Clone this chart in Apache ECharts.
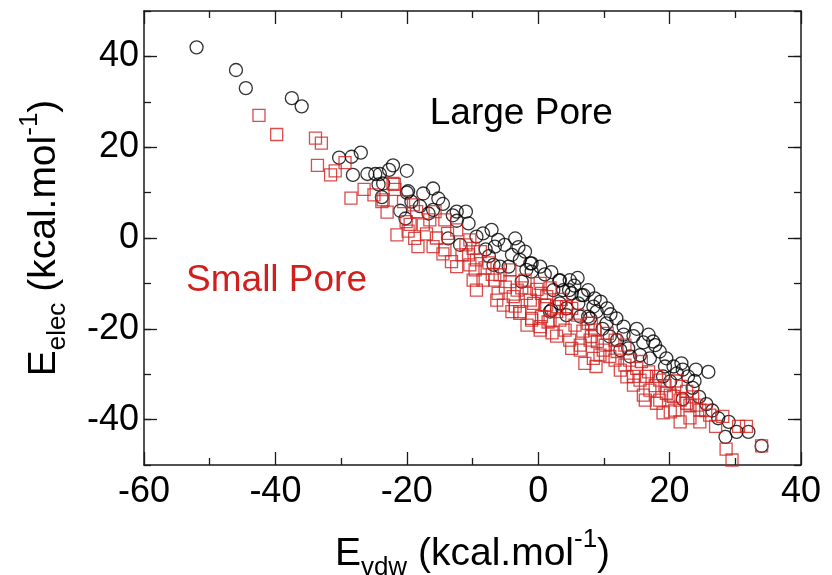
<!DOCTYPE html>
<html>
<head>
<meta charset="utf-8">
<script src="https://cdn.jsdelivr.net/npm/echarts@6/dist/echarts.min.js"></script>
<style>
html,body{margin:0;padding:0;background:#fff;}
#chart{width:832px;height:575px;}
</style>
</head>
<body>
<div id="chart"></div>
<script>
// X range / ticks
const xMin = -60, xMax = 40, xStep = 20;
const yMin = -50, yMax = 50;
const yMajorTicks = [-40, -20, 0, 20, 40];

const seriesNames = ['Large Pore', 'Small Pore'];

// Large Pore (black circles): [E_vdw, E_elec]
const largePore = [
  [-52,42],[-46,37],[-44.5,33],[-37.5,30.8],[-36,29],
  [-30.3,17.7],[-28.4,17.9],[-27,18.8],[-28.2,13.9],[-26,14.1],[-24.8,14.1],[-24.1,14.1],
  [-22.1,16],[-22.7,15],[-24.3,11.8],[-23.8,9],[-20,14.8],[-20,10],[-20.2,4.3],[-23.6,12],
  [-16,10.9],[-17.5,9.8],[-15.2,8.7],[-19.8,10.3],[-19.3,8],[-18,7],[-16.7,5.4],[-16,6.2],
  [-12.4,5.8],[-11,5.8],[-10.6,3.2],[-12.4,3.8],[-13.7,-0.1],[-11.9,-1.5],[-9.4,0.3],[-8.4,1],
  [-7.1,1.8],[-6.1,-0.4],[-3.5,-0.1],[-6.6,-1.9],[-5.1,-1.5],[-4,-3.7],[-2.8,-4.8],[-6.8,-5.9],
  [-5.8,-6.3],[-4.5,-6.3],[-1,-5.6],[0.3,-6.3],[-1.8,-7],[-2.5,-9.6],[3.3,-9.3],[4.8,-9.3],
  [2.3,-11.5],[3.8,-11.5],[5.1,-12.2],[6.9,-12.6],[7.6,-11.5],[8.4,-15.1],[3.3,-14.4],[1.8,-16.2],
  [4.3,-17],[6.4,-17.3],[7.9,-17.7],[-1.2,-5.6],[-1,-7.4],[3.2,-9.4],[4.7,-11.5],[8.6,-13.3],
  [6.6,-12.6],[2,-15.9],[4.3,-15.5],[6.1,-14.4],[7.6,-17.3],[8.9,-16.2],[10.4,-18.8],[11.9,-17.7],
  [13,-19.5],[10.9,-21.7],[13,-21.3],[14.5,-21.6],[16.8,-21.3],[17.5,-22.8],[17.8,-23.6],[13.7,-24.3],
  [12.5,-24.7],[15.5,-25.8],[14,-26.1],[19.5,-26.5],[21.8,-27.6],[20.6,-28.3],[19.3,-28.3],[21.1,-29.8],
  [22.8,-30.5],[20.1,-31.6],[25.9,-29.5],[23.5,-33],[24.5,-35],[22,-35.5],[25.6,-36.6],[27.4,-39.7],
  [28.5,-43.8],[30.2,-42.7],[32,-42.7],[34,-45.8],
  [-21,6],[-14.5,7.5],[-13,5],[-8,-2.5],[-7.5,-4],[-3,-2],[-2,-3],[1,-8],[2,-7.5],[5.5,-10.5],
  [6,-8.8],[9.5,-14],[10.5,-15.5],[11,-16.8],[9.8,-20],[12,-22.5],[15,-20],[16,-23],[18.5,-25],
  [17,-26.5],[22,-29],[23.8,-31.5],[24,-29],[19,-30.5],[26.5,-38],[29,-40.5]
];

// Small Pore (red squares): [E_vdw, E_elec]
const smallPore = [
  [-42.5,27],[-39.8,22.8],[-33.9,22],[-33,20.9],[-33.6,16],[-30.9,14.8],[-31.6,13.9],[-29.4,16.6],
  [-28.5,8.8],[-26.5,10.7],[-23.8,8],[-21.9,11.8],[-21.8,10.7],[-20.5,8],[-21.5,0.7],[-20.1,3.6],
  [-22.1,12],[-23.6,8.4],[-19,7.3],[-18.5,5.8],[-17.5,2.9],[-15.7,5.8],[-16.5,4],[-14.2,4],
  [-12.4,1.8],[-18.8,-0.1],[-18.3,-1.9],[-16,-1.9],[-15.5,0],[-13.2,-5.2],[-12.4,-6.3],[-10.4,-0.4],
  [-9.9,-2.3],[-10.6,-3.7],[-9.4,-4.8],[-9.6,-7],[-9.9,-9.3],[-9.4,-11.5],[-8.4,-9.3],[-6.6,-9.3],
  [-6.1,-12.2],[-6.3,-13.7],[-4.3,-9.6],[-3.8,-12.9],[-4,-16.2],[-2.8,-16.6],[-1.8,-12.2],[-0.7,-14.4],
  [0.3,-10],[0.5,-12.2],[1.3,-12.9],[-1,-17.7],[0.5,-17.3],[1.8,-18.1],[2.8,-15.1],[4.3,-15.1],
  [5.1,-15.5],[1.3,-14.8],[8.1,-18.8],[-2.8,-16.2],[-1,-18.1],[0.3,-19.5],[2.8,-21.6],[4.8,-22.5],
  [5.1,-24.3],[6.4,-24.7],[7.1,-27.6],[8.8,-28.3],[8.4,-26.5],[8.1,-21.7],[8.6,-20.3],[9.9,-24.7],
  [10.9,-26.1],[13.9,-26.9],[15,-28.7],[14.5,-30.5],[15.7,-27.2],[14.5,-32.4],[16,-34.6],[16.5,-30.5],
  [18,-30.5],[19.5,-34.2],[18,-36.4],[20.1,-38.3],[21.6,-40.5],[20.6,-34.9],[22.6,-36.4],[24.1,-36.8],
  [24.6,-40.5],[21.8,-32.7],[22.6,-33.8],[28.1,-39.3],[28.6,-46.5],[29.5,-48.9],[30.5,-41.5],[31.7,-41.5],
  [34,-45.8],[2.8,-16.2],[7.6,-18.8],
  [-14.2,-2.6],[-11.6,-3.7],[-10.4,-5.9],[-8.1,-6.6],[-5.8,-8.1],[-4.3,-7],[-3.2,-11.5],[-2,-9.3],
  [-1.2,-13.7],[1,-14.8],[3.3,-18.1],[4.1,-20.3],[5.6,-19.2],[6.4,-23.6],[7.9,-22.5],[9.4,-25.8],
  [10.2,-23.6],[11.7,-26.9],[12.5,-29.1],[13.2,-28],[15.5,-31.3],[17,-33.5],[18.5,-31.3],[20.1,-34.6],
  [21.6,-35.7],[23.1,-36.8],[24.6,-37.9],[26.1,-39],[18.5,-35.7],[16.3,-35.7],[20.8,-37.9],[23.1,-39.6],
  [11.7,-22.5],[13.2,-23.6],[-1.7,-19.2],[0.3,-20.3],[1.5,-18.5],[2.1,-20.9],
  [-19.8,1.5],[-17,0.9],[-14.5,-3.5],[-23,5.7],
  [-25,9.5],[-19.5,3],[-13.8,1],[-11,-1.5],[-8.8,-3],[-7.5,-5.5],[-7,-8],[-5,-10.8],[-2.5,-11],
  [-0.2,-11.3],[1.8,-11],[3.5,-13.5],[6,-17],[6.8,-20.5],[9,-22.8],[10.5,-21],[12,-25],[13.5,-30.6],
  [16.8,-29.5],[17.8,-32.5],[19.3,-32.5],[21,-31.5],[23.5,-35],[25.5,-38],[27,-41.5],[19,-38.5],
  [-3.5,-15],[-5.3,-14.8]
];

// Annotation texts and their anchor (left edge, vertical centre) in data units
const annotationTexts = ['Large Pore', 'Small Pore'];
const annotationAnchors = [[-16.5, 27.4], [-53.6, -9.4]];

const FONT = "'Liberation Sans', Arial, Helvetica, sans-serif";
const RED = '#d0201e';
const INK = '#1a1a1a';
const annotationColors = ['#000000', RED];

const chart = echarts.init(document.getElementById('chart'), null, { renderer: 'canvas' });

const titleRich = {
  m: { fontSize: 39, lineHeight: 54, fontFamily: FONT, color: '#000' },
  sub: { fontSize: 26, lineHeight: 26, verticalAlign: 'bottom', fontFamily: FONT, color: '#000' },
  sup: { fontSize: 26, lineHeight: 26, verticalAlign: 'top', fontFamily: FONT, color: '#000' }
};

const axisLineStyle = { show: true, onZero: false, lineStyle: { color: INK, width: 1.5 } };

function xAxisDef(pos, withLabels) {
  return {
    type: 'value', position: pos, min: xMin, max: xMax, interval: xStep,
    axisLine: axisLineStyle,
    axisTick: { show: true, inside: true, length: 13, lineStyle: { color: INK, width: 1.3 } },
    minorTick: { show: true, splitNumber: 2, length: 7, lineStyle: { color: INK, width: 1.3 } },
    axisLabel: { show: withLabels, fontSize: 36, fontFamily: FONT, color: '#000', margin: 9 },
    splitLine: { show: false }, minorSplitLine: { show: false }
  };
}
function yAxisDef(pos, major, withLabels) {
  return {
    type: 'value', position: pos, min: yMin, max: yMax, interval: 10,
    axisLine: major ? { show: false, onZero: false } : axisLineStyle,
    axisTick: major
      ? { show: true, inside: true, length: 13, customValues: yMajorTicks, lineStyle: { color: INK, width: 1.3 } }
      : { show: true, inside: true, length: 7, lineStyle: { color: INK, width: 1.3 } },
    axisLabel: withLabels
      ? { show: true, fontSize: 36, fontFamily: FONT, color: '#000', margin: 5,
          formatter: v => (v % 20 === 0 && v > yMin && v < yMax) ? String(v) : '' }
      : { show: false },
    splitLine: { show: false }
  };
}

const xA = xAxisDef('bottom', true);
xA.name = '{m|E}{sub|vdw}{m| (kcal.mol}{sup|-1}{m|)}';
xA.nameLocation = 'middle';
xA.nameGap = 62;
xA.nameTextStyle = { rich: titleRich };

const yA = yAxisDef('left', false, true);
yA.name = '{m|E}{sub|elec}{m| (kcal.mol}{sup|-1}{m|)}';
yA.nameLocation = 'middle';
yA.nameRotate = 90;
yA.nameGap = 73;
yA.nameTextStyle = { rich: titleRich };

const option = {
  backgroundColor: '#ffffff',
  animation: false,
  grid: { left: 144, right: 31, top: 11, bottom: 110, outerBoundsMode: 'none', containLabel: false },
  xAxis: [xA, xAxisDef('top', false)],
  yAxis: [yA, yAxisDef('left', true, false), yAxisDef('right', false, false), yAxisDef('right', true, false)],
  series: [
    {
      name: seriesNames[0], type: 'scatter', xAxisIndex: 0, yAxisIndex: 0,
      symbol: 'circle', symbolSize: 13,
      itemStyle: { color: 'rgba(0,0,0,0)', borderColor: '#000', borderWidth: 1.3 },
      data: largePore, z: 2
    },
    {
      name: seriesNames[1], type: 'scatter', xAxisIndex: 0, yAxisIndex: 0,
      symbol: 'rect', symbolSize: 12,
      itemStyle: { color: 'rgba(0,0,0,0)', borderColor: RED, borderWidth: 1.3 },
      data: smallPore, z: 3
    }
  ]
};
chart.setOption(option);

// Place annotation texts at data-anchored positions
chart.setOption({
  graphic: annotationTexts.map((t, i) => {
    const p = chart.convertToPixel({ xAxisIndex: 0, yAxisIndex: 0 }, annotationAnchors[i]);
    return {
      type: 'text', x: p[0], y: p[1], z: 10, silent: true,
      style: { text: t, fill: annotationColors[i], font: '37px ' + FONT,
        textAlign: 'left', textVerticalAlign: 'middle', verticalAlign: 'middle' }
    };
  })
});
</script>
</body>
</html>
